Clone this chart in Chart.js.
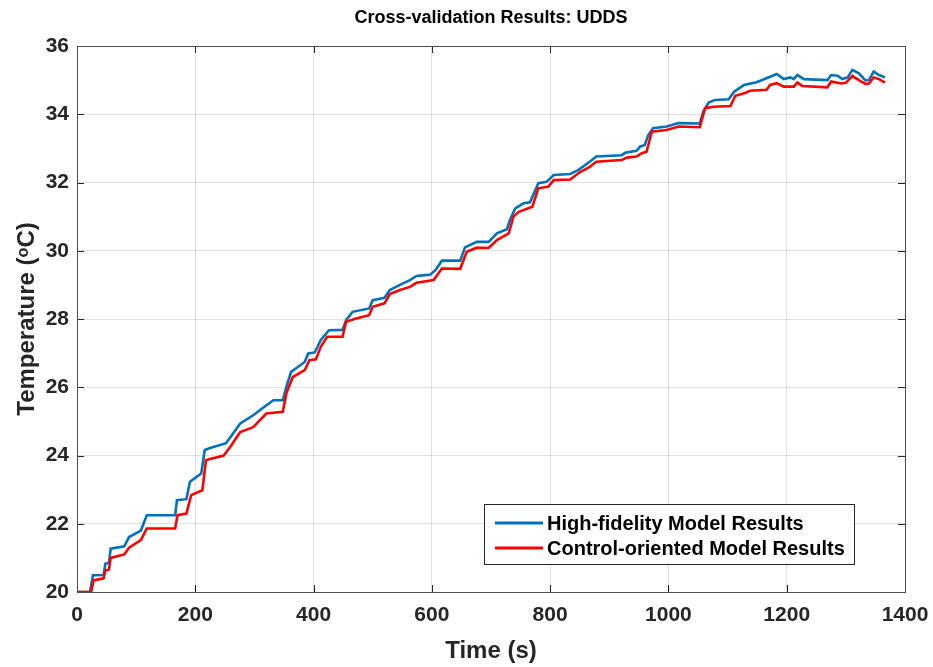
<!DOCTYPE html>
<html>
<head>
<meta charset="utf-8">
<script src="https://cdn.jsdelivr.net/npm/chart.js@4.4.0/dist/chart.umd.min.js"></script>
<style>
  html, body { margin: 0; padding: 0; background: #ffffff; }
  #wrap { width: 933px; height: 667px; position: relative; }
</style>
</head>
<body>
<div id="wrap"><canvas id="c" width="933" height="667"></canvas></div>
<script>
const chartTitle = 'Cross-validation Results: UDDS';
const xAxisTitle = 'Time (s)';
const yAxisTitle = 'Temperature (\u1D52C)';
const seriesNames = ['High-fidelity Model Results', 'Control-oriented Model Results'];
const xTickValues = [0, 200, 400, 600, 800, 1000, 1200, 1400];
const yTickValues = [20, 22, 24, 26, 28, 30, 32, 34, 36];

const hfTime = [0,22,27,45,48,54,57,80,88,108,118,166,169,185,191,210,216,225,252,262,276,298,317,332,348,354,362,374,385,391,402,412,426,449,455,466,494,500,520,529,546,563,574,597,606,617,648,656,676,696,710,727,732,741,755,766,780,794,806,834,848,867,878,921,927,946,952,960,966,974,997,1017,1053,1059,1068,1079,1102,1111,1128,1149,1172,1183,1195,1206,1212,1218,1229,1269,1275,1286,1294,1303,1311,1322,1333,1339,1347,1356,1366];
const hfTemp = [20,20,20.49,20.5,20.83,20.85,21.27,21.34,21.61,21.8,22.25,22.25,22.69,22.72,23.23,23.47,24.16,24.22,24.36,24.6,24.94,25.18,25.43,25.62,25.62,26.01,26.45,26.6,26.74,26.99,27.02,27.38,27.67,27.68,27.97,28.21,28.31,28.55,28.62,28.85,29.0,29.14,29.26,29.3,29.43,29.71,29.71,30.1,30.26,30.26,30.51,30.63,30.9,31.24,31.39,31.42,31.98,32.02,32.22,32.25,32.37,32.61,32.76,32.8,32.87,32.93,33.05,33.1,33.39,33.59,33.64,33.74,33.73,34.08,34.34,34.42,34.44,34.66,34.86,34.94,35.1,35.18,35.03,35.08,35.03,35.15,35.03,35.0,35.15,35.13,35.03,35.08,35.3,35.2,34.99,35.0,35.25,35.15,35.08];

const coTime = [0,24,28,45,48,54,57,80,88,108,118,166,170,185,193,212,218,225,248,259,276,298,320,348,354,365,385,393,404,412,423,449,455,469,494,500,520,529,546,563,574,603,617,648,659,676,696,710,730,738,747,770,780,797,806,834,850,867,878,921,930,946,955,963,972,997,1017,1053,1062,1076,1105,1113,1131,1138,1166,1172,1183,1195,1212,1218,1226,1269,1275,1292,1300,1311,1322,1333,1339,1347,1356,1366];
const coTemp = [20,20,20.34,20.4,20.63,20.66,21.0,21.1,21.3,21.52,21.86,21.86,22.25,22.3,22.84,22.98,23.86,23.9,24.0,24.25,24.69,24.83,25.23,25.28,25.82,26.3,26.5,26.79,26.82,27.18,27.48,27.48,27.92,28.0,28.11,28.36,28.46,28.73,28.85,28.94,29.06,29.14,29.48,29.47,29.97,30.09,30.08,30.31,30.51,31.0,31.14,31.29,31.83,31.88,32.07,32.09,32.3,32.46,32.61,32.66,32.73,32.76,32.86,32.9,33.49,33.54,33.64,33.62,34.18,34.22,34.24,34.54,34.63,34.69,34.72,34.86,34.91,34.81,34.81,34.93,34.83,34.79,34.96,34.9,34.92,35.12,35.0,34.89,34.9,35.08,35.03,34.93];

const FONT = '"Liberation Sans", Arial, Helvetica, sans-serif';
const AXC = '#262626';
const colors = ['#0072BD', '#FF0000'];

function toPoints(xs, ys) { return xs.map((x, i) => ({ x: x, y: ys[i] })); }

const framePlugin = {
  id: 'frame',
  afterDraw(chart) {
    const ctx = chart.ctx;
    const a = chart.chartArea;
    const xs = chart.scales.x, ys = chart.scales.y;
    ctx.save();
    // title centred over the plot area
    ctx.fillStyle = '#000000';
    ctx.font = 'bold 18px ' + FONT;
    ctx.textAlign = 'center';
    ctx.textBaseline = 'middle';
    ctx.fillText(chartTitle, (a.left + a.right) / 2, 18);
    ctx.strokeStyle = AXC;
    ctx.lineWidth = 1;
    const tl = 7;
    ctx.beginPath();
    xTickValues.forEach(v => {
      const px = Math.round(xs.getPixelForValue(v)) + 0.5;
      ctx.moveTo(px, a.bottom); ctx.lineTo(px, a.bottom - tl);
      ctx.moveTo(px, a.top); ctx.lineTo(px, a.top + tl);
    });
    yTickValues.forEach(v => {
      const py = Math.round(ys.getPixelForValue(v)) + 0.5;
      ctx.moveTo(a.left, py); ctx.lineTo(a.left + tl, py);
      ctx.moveTo(a.right, py); ctx.lineTo(a.right - tl, py);
    });
    ctx.stroke();
    ctx.strokeStyle = '#4d4d4d';
    ctx.strokeRect(Math.round(a.left) + 0.5, Math.round(a.top) + 0.5,
                   Math.round(a.right - a.left), Math.round(a.bottom - a.top));
    // legend
    const lx = 484, ly = 504, lw = 370, lh = 60;
    ctx.fillStyle = '#ffffff';
    ctx.fillRect(lx, ly, lw, lh);
    ctx.strokeStyle = '#262626';
    ctx.strokeRect(lx + 0.5, ly + 0.5, lw, lh);
    ctx.font = 'bold 20px ' + FONT;
    ctx.textBaseline = 'middle';
    ctx.textAlign = 'left';
    const rows = [ly + 19, ly + 44];
    chart.data.datasets.forEach((ds, i) => {
      ctx.strokeStyle = ds.borderColor;
      ctx.lineWidth = 3;
      ctx.beginPath();
      ctx.moveTo(lx + 11, rows[i]); ctx.lineTo(lx + 59, rows[i]);
      ctx.stroke();
      ctx.fillStyle = '#000000';
      ctx.fillText(ds.label, lx + 63, rows[i] + 1);
    });
    ctx.restore();
  }
};

new Chart(document.getElementById('c'), {
  type: 'scatter',
  data: {
    datasets: [
      { label: seriesNames[0], data: toPoints(hfTime, hfTemp), showLine: true,
        borderColor: colors[0], backgroundColor: colors[0], borderWidth: 2.6,
        pointRadius: 0, tension: 0, order: 2 },
      { label: seriesNames[1], data: toPoints(coTime, coTemp), showLine: true,
        borderColor: colors[1], backgroundColor: colors[1], borderWidth: 2.6,
        pointRadius: 0, tension: 0, order: 1 }
    ]
  },
  options: {
    responsive: false,
    animation: false,
    layout: { padding: { left: 0, right: 28, top: 46, bottom: 0 } },
    plugins: {
      legend: { display: false },
      tooltip: { enabled: false },
      title: { display: false }
    },
    scales: {
      x: {
        type: 'linear', min: 0, max: 1400,
        afterBuildTicks: s => { s.ticks = xTickValues.map(v => ({ value: v })); },
        afterFit: s => { s.height = 75; s.paddingLeft = 0; s.paddingRight = 0; },
        grid: { color: 'rgba(38,38,38,0.15)', lineWidth: 1, drawTicks: false },
        border: { display: false },
        ticks: { color: AXC, padding: 11, maxRotation: 0,
                 callback: v => String(v),
                 font: { family: FONT, size: 21, weight: 'bold' } },
        title: { display: true, text: xAxisTitle, color: AXC,
                 font: { family: FONT, size: 24, weight: 'bold', lineHeight: 1.2 },
                 padding: { top: 2, bottom: 1 } }
      },
      y: {
        type: 'linear', min: 20, max: 36,
        afterBuildTicks: s => { s.ticks = yTickValues.map(v => ({ value: v })); },
        afterFit: s => { s.width = 77; s.paddingTop = 0; s.paddingBottom = 0; },
        grid: { color: 'rgba(38,38,38,0.15)', lineWidth: 1, drawTicks: false },
        border: { display: false },
        ticks: { color: AXC, padding: 8,
                 callback: v => String(v),
                 font: { family: FONT, size: 21, weight: 'bold' } },
        title: { display: true, text: yAxisTitle, color: AXC,
                 font: { family: FONT, size: 24, weight: 'bold', lineHeight: 1.2 },
                 padding: { top: 13, bottom: 4 } }
      }
    }
  },
  plugins: [framePlugin]
});
</script>
</body>
</html>
